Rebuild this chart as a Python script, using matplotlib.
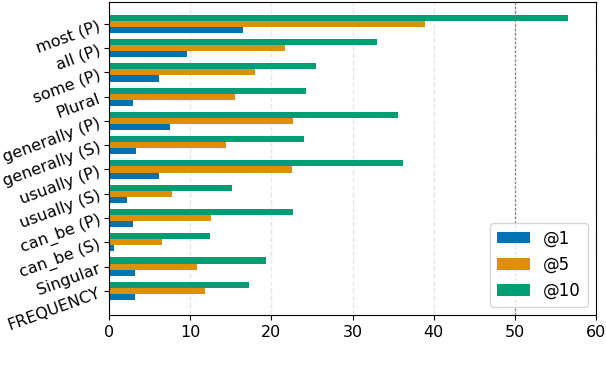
import matplotlib
matplotlib.use("Agg")
import matplotlib.pyplot as plt
import numpy as np

categories = ["FREQUENCY", "Singular", "can_be (S)", "can_be (P)", "usually (S)",
              "usually (P)", "generally (S)", "generally (P)", "Plural",
              "some (P)", "all (P)", "most (P)"]
at1 = [3.2, 3.2, 0.6, 2.9, 2.2, 6.1, 3.3, 7.5, 2.9, 6.1, 9.6, 16.5]
at5 = [11.8, 10.8, 6.5, 12.5, 7.7, 22.6, 14.4, 22.7, 15.5, 18.0, 21.7, 38.9]
at10 = [17.2, 19.3, 12.4, 22.7, 15.1, 36.2, 24.0, 35.6, 24.3, 25.5, 33.0, 56.5]
series = {"@1": at1, "@5": at5, "@10": at10}
colors = ["#0173b2", "#de8f05", "#029e73"]

fig = plt.figure(figsize=(6.06, 3.66), dpi=100)
ax = fig.add_axes([0.18, 0.139, 0.8035, 0.8555])
y = np.arange(len(categories))
h = 0.25
for i, (name, vals) in enumerate(series.items()):
    ax.barh(y + (i - 1) * h, vals, height=h, color=colors[i], label=name, zorder=2)

ax.axvline(50, color="gray", linestyle=(0, (2, 1.5)), linewidth=0.9, zorder=3)
ax.set_xlim(0, 60)
ax.set_ylim(-1, 11.9)
ax.set_xticks([0, 10, 20, 30, 40, 50, 60])
ax.set_yticks(y)
ax.set_yticklabels(categories, rotation=20, fontsize=11.5, ha="right", rotation_mode="anchor")
ax.tick_params(axis="x", labelsize=11.5)
ax.grid(axis="x", color="#e8e8e8", linestyle="--", linewidth=1, zorder=0)
ax.legend(loc="lower right", fontsize=12, frameon=True)
fig.savefig("out.png", dpi=100)
